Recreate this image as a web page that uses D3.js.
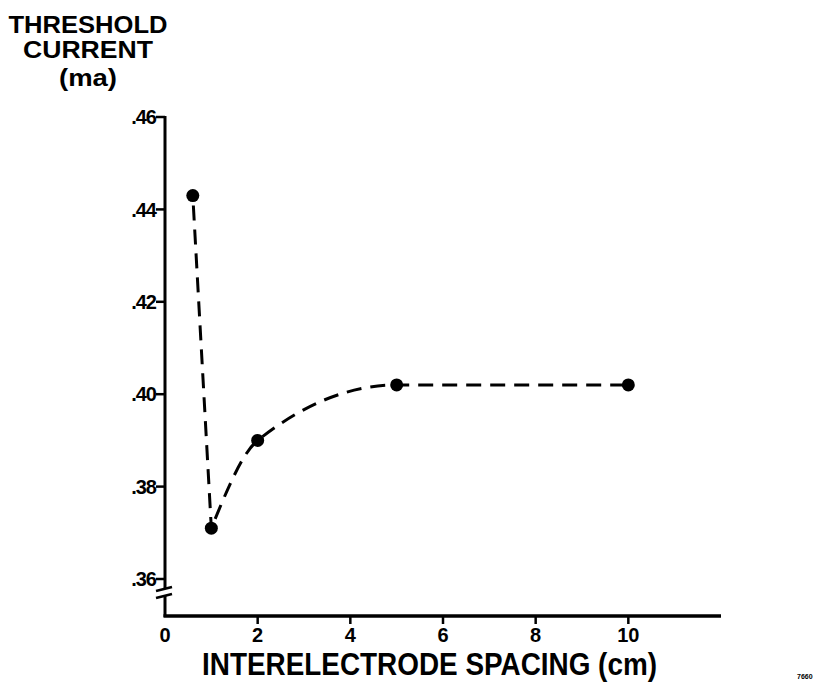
<!DOCTYPE html>
<html>
<head>
<meta charset="utf-8">
<script src="https://cdn.jsdelivr.net/npm/d3@7"></script>
<style>
  body { margin: 0; background: #fff; }
  text { font-family: "Liberation Sans", Arial, sans-serif; font-weight: bold; fill: #000; }
</style>
</head>
<body>
<div id="vis"></div>
<script>

// data
var spacing = [0.6, 1, 2, 5, 10];          // cm
var current = [0.443, 0.371, 0.390, 0.402, 0.402];  // ma
var xTicks = [0, 2, 4, 6, 8, 10];
var yTicks = [0.36, 0.38, 0.40, 0.42, 0.44, 0.46];
var yTickLabels = ['.36', '.38', '.40', '.42', '.44', '.46'];
var yTitle = ['THRESHOLD', 'CURRENT', '(ma)'];

var width = 826;
var height = 689;

var x = d3.scaleLinear().domain([0, 12]).range([165, 721]);
var y = d3.scaleLinear().domain([0.36, 0.46]).range([579, 117]);
var axisY = 616;

var svg = d3.select('#vis')
  .append('svg')
  .attr('width', width)
  .attr('height', height);

var points = spacing.map(function (d, i) { return { x: d, y: current[i] }; });

// y axis, with a break near the bottom
svg.append('line')
  .attr('x1', x(0)).attr('x2', x(0))
  .attr('y1', y(0.46) - 1).attr('y2', 589)
  .attr('stroke', '#000').attr('stroke-width', 3);
svg.append('line')
  .attr('x1', x(0)).attr('x2', x(0))
  .attr('y1', 596).attr('y2', axisY + 1)
  .attr('stroke', '#000').attr('stroke-width', 3);
svg.selectAll('.brk')
  .data([589, 596])
  .enter().append('line')
  .attr('class', 'brk')
  .attr('x1', x(0) - 9).attr('x2', x(0) + 7)
  .attr('y1', function (d) { return d + 2; })
  .attr('y2', function (d) { return d - 2; })
  .attr('stroke', '#000').attr('stroke-width', 2.5);

// x axis
svg.append('line')
  .attr('x1', x(0) - 1.5).attr('x2', x(12))
  .attr('y1', axisY).attr('y2', axisY)
  .attr('stroke', '#000').attr('stroke-width', 3.5);

// y ticks
var yt = svg.selectAll('.ytick')
  .data(yTicks)
  .enter().append('g')
  .attr('class', 'ytick')
  .attr('transform', function (d) { return 'translate(' + x(0) + ',' + y(d) + ')'; });
yt.append('line')
  .attr('x1', -9).attr('x2', 0)
  .attr('stroke', '#000').attr('stroke-width', 2.5);
yt.append('text')
  .attr('x', -9)
  .attr('dy', '0.36em')
  .attr('text-anchor', 'end')
  .attr('font-size', 20)
  .attr('letter-spacing', -1)
  .text(function (d, i) { return yTickLabels[i]; });

// x ticks
var xt = svg.selectAll('.xtick')
  .data(xTicks)
  .enter().append('g')
  .attr('class', 'xtick')
  .attr('transform', function (d) { return 'translate(' + x(d) + ',' + axisY + ')'; });
xt.append('line')
  .attr('y1', 0).attr('y2', function (d) { return d === 0 ? 0 : 8; })
  .attr('stroke', '#000').attr('stroke-width', 2.5);
xt.append('text')
  .attr('y', 26)
  .attr('text-anchor', 'middle')
  .attr('font-size', 20)
  .text(function (d) { return d; });

// dashed curve: straight drop to the minimum, then a smooth rise
var line = d3.line()
  .x(function (d) { return x(d.x); })
  .y(function (d) { return y(d.y); });

svg.append('path')
  .datum(points.slice(0, 2))
  .attr('d', line.curve(d3.curveLinear))
  .attr('fill', 'none')
  .attr('stroke', '#000')
  .attr('stroke-width', 3)
  .attr('stroke-dasharray', '15,9')
  .attr('stroke-dashoffset', -10);

svg.append('path')
  .datum(points.slice(1))
  .attr('d', line.curve(d3.curveMonotoneX))
  .attr('fill', 'none')
  .attr('stroke', '#000')
  .attr('stroke-width', 3)
  .attr('stroke-dasharray', '15,9')
  .attr('stroke-dashoffset', -10);

svg.selectAll('.dot')
  .data(points)
  .enter().append('circle')
  .attr('class', 'dot')
  .attr('cx', function (d) { return x(d.x); })
  .attr('cy', function (d) { return y(d.y); })
  .attr('r', 6.5)
  .attr('fill', '#000');

// titles
var titleW = [159, 130, 58];
svg.selectAll('.ytitle')
  .data(yTitle)
  .enter().append('text')
  .attr('class', 'ytitle')
  .attr('x', 88)
  .attr('y', function (d, i) { return [33, 58, 86][i]; })
  .attr('text-anchor', 'middle')
  .attr('font-size', 24)
  .attr('textLength', function (d, i) { return titleW[i]; })
  .attr('lengthAdjust', 'spacingAndGlyphs')
  .text(function (d) { return d; });

svg.append('text')
  .attr('x', 202)
  .attr('y', 675)
  .attr('font-size', 31)
  .attr('textLength', 455)
  .attr('lengthAdjust', 'spacingAndGlyphs')
  .text('INTERELECTRODE  SPACING  (cm)');

svg.append('text')
  .attr('x', 797)
  .attr('y', 679)
  .attr('font-size', 7)
  .text('7660');

</script>
</body>
</html>
